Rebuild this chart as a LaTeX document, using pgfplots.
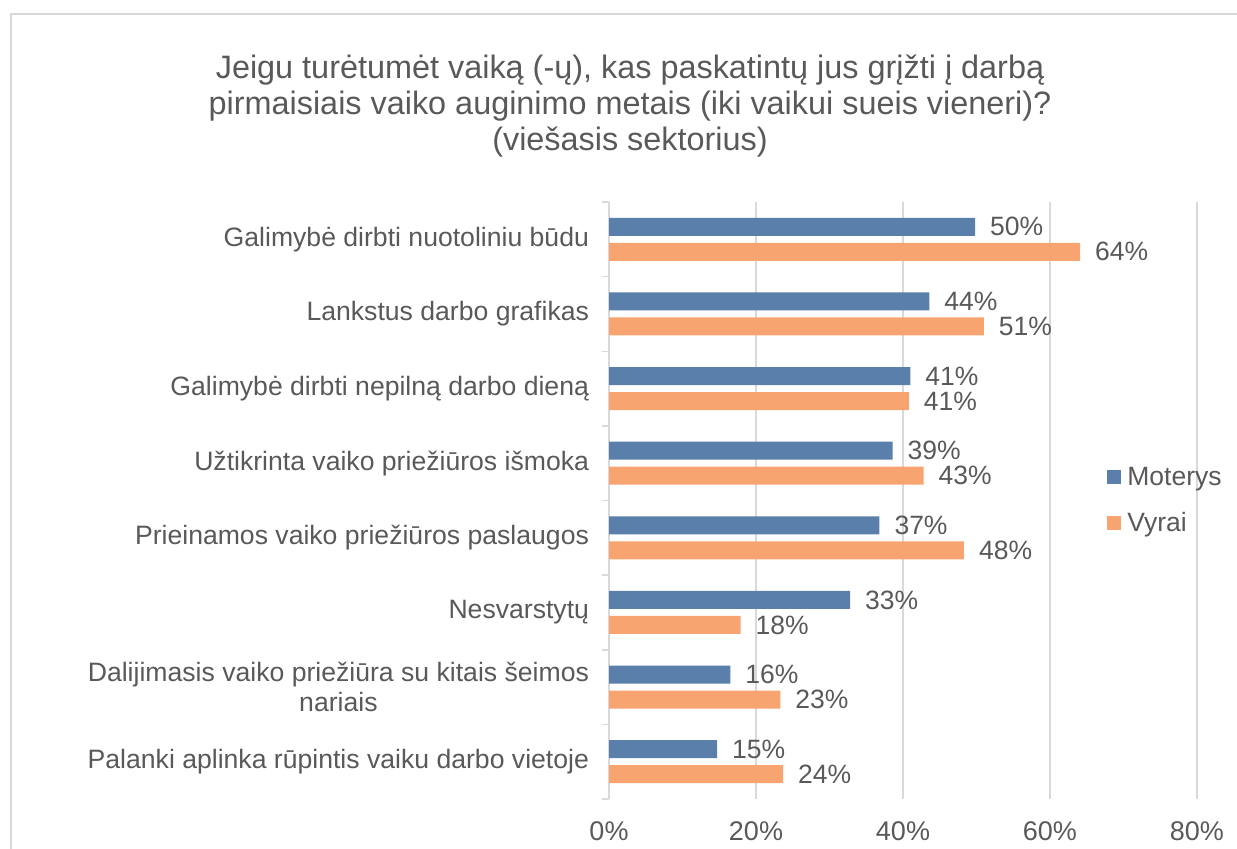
\documentclass[border=0pt]{standalone}
\usepackage{pgfplots}
\pgfplotsset{compat=1.18}
\usepackage{pgfplotstable}
\usepackage{fontspec}
\setmainfont{Liberation Sans}
\definecolor{mblue}{RGB}{91,127,171}
\definecolor{vorange}{RGB}{248,164,112}
\definecolor{txt}{RGB}{89,89,89}
\definecolor{gridc}{RGB}{217,217,217}
\pgfplotstableread{
y x lab
0 49.8 50
1 43.6 44
2 41.0 41
3 38.6 39
4 36.8 37
5 32.8 33
6 16.5 16
7 14.7 15
}\moterys
\pgfplotstableread{
y x lab
0 64.1 64
1 51.0 51
2 40.8 41
3 42.8 43
4 48.3 48
5 17.9 18
6 23.3 23
7 23.7 24
}\vyrai
\begin{document}
\begin{tikzpicture}
\useasboundingbox (0,0) rectangle (618.5bp,424.5bp);
\clip (0,0) rectangle (618.5bp,424.5bp);
\draw[gridc, line width=1bp] (5.5bp,-5bp) -- (5.5bp,417.5bp) -- (630bp,417.5bp);
\node[text=txt, font=\fontsize{16.2bp}{18bp}\selectfont, align=center] at (315bp,371.5bp)
 {Jeigu turėtumėt vaiką (-ų), kas paskatintų jus grįžti į darbą\\pirmaisiais vaiko auginimo metais (iki vaikui sueis vieneri)?\\(viešasis sektorius)};
\begin{axis}[
  at={(304.5bp,25bp)}, anchor=south west,
  scale only axis, width=294bp, height=298.5bp,
  xbar, bar width=9bp,
  xmin=0, xmax=80,
  ymin=-0.5, ymax=7.5, y dir=reverse,
  xtick={0,20,40,60,80},
  xticklabel={\pgfmathprintnumber{\tick}\%},
  xmajorgrids, grid style={gridc, line width=0.75bp},
  ytick={0,...,7},
  yticklabels={Galimybė dirbti nuotoliniu būdu, Lankstus darbo grafikas, Galimybė dirbti nepilną darbo dieną, Užtikrinta vaiko priežiūros išmoka, Prieinamos vaiko priežiūros paslaugos, Nesvarstytų, {Dalijimasis vaiko priežiūra su kitais šeimos\\nariais}, Palanki aplinka rūpintis vaiku darbo vietoje},
  yticklabel style={align=center, text=txt, font=\fontsize{13.3bp}{15bp}\selectfont, xshift=-6.5bp},
  xticklabel style={text=txt, font=\fontsize{13.5bp}{16bp}\selectfont, yshift=-8bp},
  /pgf/number format/assume math mode=true,
  major tick length=0pt,
  extra y ticks={-0.5,0.5,...,7.5},
  extra y tick labels={},
  extra y tick style={major tick length=3.5bp, tick align=outside, tick style={gridc, line width=0.75bp}, grid=none},
  axis x line*=bottom, axis y line*=left,
  x axis line style={draw=none},
  y axis line style={gridc, line width=0.75bp},
  axis line style={-},
  point meta=explicit symbolic,
  nodes near coords={\pgfplotspointmeta\%},
  nodes near coords style={anchor=west, xshift=4bp, text=txt, font=\fontsize{13.25bp}{15bp}\selectfont},
  legend style={at={(0.847,0.5)}, anchor=west, draw=none, fill=none, text=txt, font=\fontsize{13.25bp}{15bp}\selectfont, row sep=8bp, inner sep=0pt, nodes={inner xsep=3bp}},
  legend cell align=left,
  legend image code/.code={\fill[#1] (0bp,-3.5bp) rectangle (7bp,3.5bp);},
  clip=false,
]
\addplot[fill=mblue, draw=none, bar shift=6.25bp] table[x=x, y=y, meta=lab] {\moterys};
\addplot[fill=vorange, draw=none, bar shift=-6.25bp] table[x=x, y=y, meta=lab] {\vyrai};
\legend{Moterys, Vyrai}
\end{axis}
\end{tikzpicture}
\end{document}
